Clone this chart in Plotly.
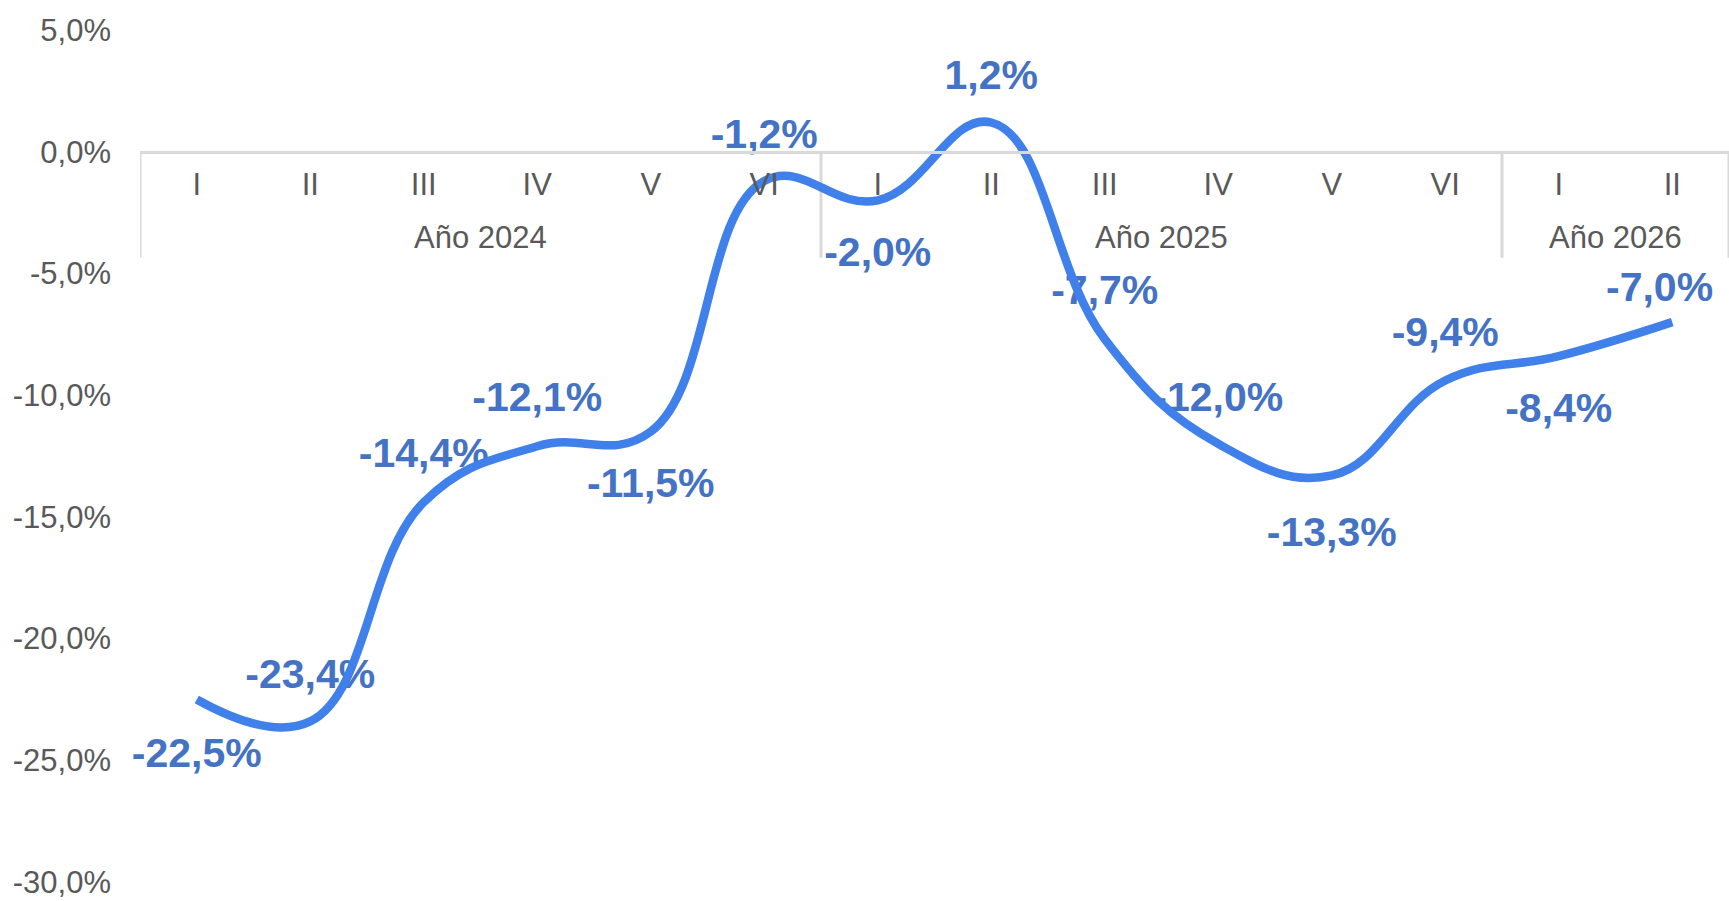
import plotly.graph_objects as go

# ---- data ----
years = ["Año 2024"] * 6 + ["Año 2025"] * 6 + ["Año 2026"] * 2
periods = ["I", "II", "III", "IV", "V", "VI",
           "I", "II", "III", "IV", "V", "VI",
           "I", "II"]
values = [-22.5, -23.4, -14.4, -12.1, -11.5, -1.2,
          -2.0, 1.2, -7.7, -12.0, -13.3, -9.4,
          -8.4, -7.0]
y_tickvals = [5, 0, -5, -10, -15, -20, -25, -30]
y_ticktext = ["5,0%", "0,0%", "-5,0%", "-10,0%", "-15,0%", "-20,0%", "-25,0%", "-30,0%"]
y_range = [-30, 5]

# ---- styles ----
LINE_COLOR = "#3F80EA"
LABEL_COLOR = "#4472C4"
GRAY = "#595959"
AXIS_GRAY = "#D9D9D9"
FONT = "Liberation Sans, Arial, sans-serif"
LABEL_SIZE = 41
TICK_SIZE = 31

labels = [f"{v:.1f}%".replace(".", ",") for v in values]
# label placement (above / below) and spacing via invisible marker size
label_pos = ["bottom center", "top center", "top center", "top center", "bottom center",
             "top center", "bottom center", "top center", "top center", "top center",
             "bottom center", "top center", "bottom center", "top center"]
label_gap = [58, 35, 38, 38, 54, 35, 54, 35, 38, 35, 62, 37, 55, 1]

n = len(values)
xi = list(range(n))

fig = go.Figure()

# labels first (the line is drawn on top of them)
fig.add_trace(go.Scatter(
    x=xi[:-1], y=values[:-1],
    mode="markers+text",
    text=labels[:-1],
    textposition=label_pos[:-1],
    marker=dict(size=label_gap[:-1], color="rgba(0,0,0,0)", line=dict(width=0)),
    textfont=dict(family=FONT, size=LABEL_SIZE, color=LABEL_COLOR, weight="bold"),
    cliponaxis=False,
    hoverinfo="skip",
    showlegend=False,
))

fig.add_trace(go.Scatter(
    x=xi, y=values,
    mode="lines",
    line=dict(color=LINE_COLOR, width=8.5, shape="spline", smoothing=1.2),
    showlegend=False,
))

fig.add_annotation(
    x=xi[-1], y=values[-1], text=labels[-1], showarrow=False,
    xshift=-13, yshift=35,
    font=dict(family=FONT, size=LABEL_SIZE, color=LABEL_COLOR, weight="bold"),
)

zero_pos = (0 - y_range[0]) / (y_range[1] - y_range[0])

# group (year) labels and dividers on the category axis
groups = []
for i, yname in enumerate(years):
    if not groups or groups[-1][0] != yname:
        groups.append([yname, i, i])
    else:
        groups[-1][2] = i

for yname, i0, i1 in groups:
    fig.add_annotation(
        x=(i0 + i1) / 2, xref="x", y=zero_pos, yref="paper",
        yanchor="middle", yshift=-86, showarrow=False, text=yname,
        font=dict(family=FONT, size=TICK_SIZE, color=GRAY),
    )
bounds = [g[1] - 0.5 for g in groups] + [groups[-1][2] + 0.5]
for b in bounds:
    fig.add_shape(
        type="line", xref="x", x0=b, x1=b,
        yref="paper", ysizemode="pixel", yanchor=zero_pos, y0=0, y1=-106,
        line=dict(color=AXIS_GRAY, width=3), layer="below",
    )

fig.update_layout(
    width=1729, height=901,
    margin=dict(l=140, r=0, t=30, b=19),
    paper_bgcolor="white", plot_bgcolor="white",
    font=dict(family=FONT, size=TICK_SIZE, color=GRAY),
    showlegend=False,
    xaxis=dict(
        range=[-0.5, n - 0.5],
        tickvals=xi, ticktext=periods,
        anchor="free", position=zero_pos,
        showline=True, linecolor=AXIS_GRAY, linewidth=3,
        showgrid=False, zeroline=False, ticks="",
        ticklabelstandoff=4,
        tickfont=dict(family=FONT, size=TICK_SIZE, color=GRAY),
    ),
    yaxis=dict(
        range=y_range,
        tickvals=y_tickvals, ticktext=y_ticktext,
        showgrid=False, zeroline=False, showline=False, ticks="",
        ticklabelstandoff=28,
        tickfont=dict(family=FONT, size=TICK_SIZE, color=GRAY),
    ),
)

fig.write_html("out.html", config={"displayModeBar": False},
               post_script="document.body.style.margin='0';document.body.style.overflow='hidden';")
